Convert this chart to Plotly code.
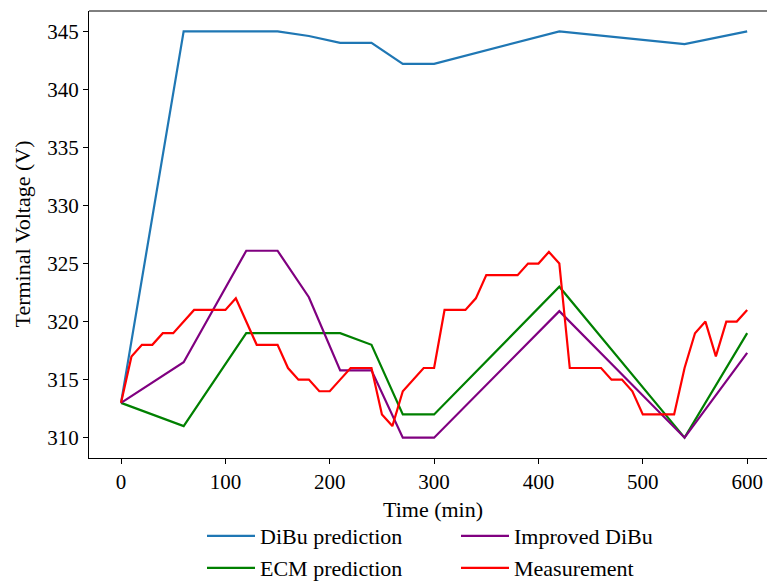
import plotly.graph_objects as go

t_dibu = [0, 60, 150, 180, 210, 240, 270, 300, 420, 540, 600]
v_dibu = [313, 345, 345, 344.6, 344, 344, 342.2, 342.2, 345, 343.9, 345]

t_ecm = [0, 60, 120, 210, 240, 270, 300, 420, 540, 600]
v_ecm = [313, 311, 319, 319, 318, 312, 312, 323, 310, 319]

t_imp = [0, 60, 120, 150, 180, 210, 240, 270, 300, 420, 540, 600]
v_imp = [313, 316.5, 326.1, 326.1, 322.1, 315.8, 315.8, 310, 310, 320.9, 310, 317.3]

t_meas = [0, 10, 20, 30, 40, 50, 70, 100, 110, 130, 150, 160, 170, 180, 190, 200, 210,
          220, 240, 250, 260, 270, 290, 300, 310, 330, 340, 350, 380, 390, 400, 410, 420,
          430, 460, 470, 480, 490, 500, 530, 540, 550, 560, 570, 580, 590, 600]
v_meas = [313, 317, 318, 318, 319, 319, 321, 321, 322, 318, 318, 316, 315, 315, 314, 314, 315,
          316, 316, 312, 311, 314, 316, 316, 321, 321, 322, 324, 324, 325, 325, 326, 325,
          316, 316, 315, 315, 314, 312, 312, 316, 319, 320, 317, 320, 320, 321]

x_ticks = [0, 100, 200, 300, 400, 500, 600]
y_ticks = [310, 315, 320, 325, 330, 335, 340, 345]

FONT = "Liberation Serif, Times New Roman, serif"
FS = 21
FS_T = 22
W, H = 767, 581
ML, MR, MT, MB = 89, 0, 11, 123
PW = W - ML - MR
PH = H - MT - MB


def px(pix):
    return (pix - ML) / PW


def py(pix):
    return (H - MB - pix) / PH


fig = go.Figure()
series = [
    ("DiBu prediction", t_dibu, v_dibu, "#1f77b4", "legend", 208, 536),
    ("Improved DiBu", t_imp, v_imp, "#800080", "legend2", 462, 536),
    ("ECM prediction", t_ecm, v_ecm, "#008000", "legend3", 208, 568),
    ("Measurement", t_meas, v_meas, "#ff0000", "legend4", 462, 568),
]
order = [0, 2, 1, 3]
legends = {}
for i in order:
    name, tx, vy, col, leg, lx, ly = series[i]
    fig.add_trace(go.Scatter(x=tx, y=vy, mode="lines", name=name,
                             line=dict(color=col, width=2.2), legend=leg))
    legends[leg] = dict(orientation="v", xanchor="left", yanchor="middle",
                        x=px(lx - 6), y=py(ly), xref="paper", yref="paper",
                        font=dict(family=FONT, size=FS_T, color="black"),
                        bgcolor="rgba(0,0,0,0)", itemwidth=48,
                        borderwidth=0)

fig.update_layout(
    width=W, height=H,
    margin=dict(l=ML, r=MR, t=MT, b=MB, autoexpand=False),
    paper_bgcolor="white", plot_bgcolor="white",
    font=dict(family=FONT, size=FS, color="black"),
    showlegend=True,
    xaxis=dict(range=[-30.7, 619], tickvals=x_ticks, ticks="outside", ticklen=5,
               tickcolor="black", showline=True, linecolor="black", linewidth=1,
               showgrid=False, zeroline=False, tickfont=dict(family=FONT, size=FS)),
    yaxis=dict(range=[308.25, 346.75], tickvals=y_ticks, ticks="outside", ticklen=5,
               tickcolor="black", showline=True, linecolor="black", linewidth=1,
               showgrid=False, zeroline=False, tickfont=dict(family=FONT, size=FS)),
    annotations=[
        dict(text="Time (min)", x=px(433), y=py(509),
             xref="paper", yref="paper", showarrow=False,
             font=dict(family=FONT, size=FS_T), xanchor="center", yanchor="middle"),
        dict(text="Terminal Voltage (V)", x=px(22), y=0.5,
             xref="paper", yref="paper", showarrow=False, textangle=-90,
             font=dict(family=FONT, size=FS_T), xanchor="center", yanchor="middle"),
    ],
    shapes=[dict(type="line", xref="paper", yref="paper", x0=0, x1=1, y0=1, y1=1,
                 line=dict(color="black", width=1))],
    **legends,
)

fig.write_html("out.html", config={"displayModeBar": False},
               post_script="document.body.style.margin='0';document.body.style.overflow='hidden';")
